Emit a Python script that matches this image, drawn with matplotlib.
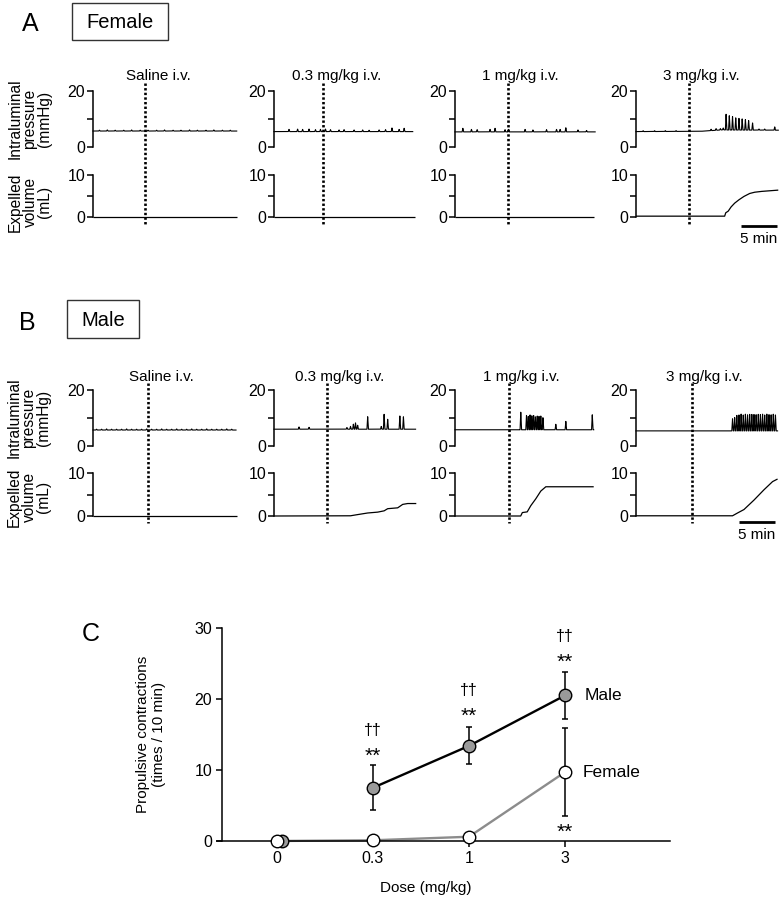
import numpy as np
import matplotlib
matplotlib.use("Agg")
import matplotlib.pyplot as plt
from matplotlib.transforms import blended_transform_factory
from matplotlib.patches import Rectangle
from matplotlib.lines import Line2D

plt.rcParams['font.family'] = ['Liberation Sans', 'DejaVu Sans']

# ---------------- data ----------------
trace_titles = ["Saline i.v.", "0.3 mg/kg i.v.", "1 mg/kg i.v.", "3 mg/kg i.v."]

# injection time (min) and recording end (min) per column
female_inject = [7.3, 6.9, 7.4, 7.4]
male_inject = [7.7, 7.4, 7.5, 7.8]
female_end = [20.1, 19.4, 19.6, 19.9]
male_end = [20.0, 19.8, 19.4, 19.8]

# baseline pressure breakpoints (min, mmHg)
female_base_t = [[0, 20.1], [0, 19.4], [0, 19.6], [0, 9.0, 12.0, 19.9]]
female_base_v = [[5.7, 5.7], [5.5, 5.5], [5.4, 5.4], [5.5, 5.6, 6.1, 6.0]]
male_base_t = [[0, 20.0], [0, 19.8], [0, 19.4], [0, 19.8]]
male_base_v = [[5.7, 5.7], [6.0, 6.0], [5.8, 5.8], [5.4, 5.4]]

# pressure spikes: time (min) and height above baseline (mmHg)
female_spk_t = [
    [0.9, 2.0, 3.1, 4.3, 5.4, 6.6, 7.7, 8.9, 10.0, 11.2, 12.3, 13.5, 14.6, 15.8, 16.9, 18.1, 19.2],
    [2.1, 3.3, 4.0, 4.9, 5.8, 6.5, 7.2, 7.9, 9.1, 9.8, 11.2, 12.4, 13.3, 14.7, 15.6, 16.5, 17.5, 18.2],
    [1.1, 2.3, 3.1, 4.9, 5.6, 7.0, 7.5, 9.8, 10.9, 12.8, 14.2, 14.7, 15.5, 17.2, 18.4],
    [1.0, 2.6, 4.1, 5.6, 10.5, 11.2, 11.8, 12.2, 12.6, 13.05, 13.5, 13.95, 14.4, 14.85, 15.3,
     15.75, 16.3, 17.2, 18.0, 19.4],
]
female_spk_h = [
    [0.3, 0.4, 0.3, 0.3, 0.4, 0.3, 0.3, 0.3, 0.4, 0.3, 0.3, 0.4, 0.3, 0.3, 0.4, 0.3, 0.3],
    [0.8, 0.9, 0.8, 0.9, 0.7, 0.8, 0.9, 0.7, 0.6, 0.7, 0.6, 0.6, 0.5, 0.6, 0.7, 1.3, 0.8, 1.2],
    [1.3, 0.9, 0.8, 0.9, 1.3, 0.8, 0.9, 0.9, 0.7, 0.8, 0.9, 0.9, 1.5, 0.7, 0.5],
    [0.3, 0.3, 0.3, 0.3, 0.5, 0.6, 0.5, 0.7, 5.6, 5.2, 4.8, 4.4, 4.2, 4.0, 3.8,
     3.4, 2.6, 0.4, 0.4, 1.2],
]
male_spk_t = [
    [0.5, 1.2, 1.9, 2.6, 3.3, 4.0, 4.7, 5.4, 6.1, 6.8, 7.5, 8.2, 8.9, 9.6, 10.3, 11.0,
     11.7, 12.4, 13.1, 13.8, 14.5, 15.2, 15.9, 16.6, 17.3, 18.0, 18.7, 19.4],
    [3.5, 4.9, 10.2, 10.7, 11.1, 11.4, 11.7, 13.1, 15.0, 15.4, 15.9, 17.6, 18.1],
    [9.2, 10.0, 10.25, 10.5, 10.75, 11.0, 11.25, 11.5, 11.75, 12.0, 12.3, 14.1, 15.5, 19.2],
    [13.5, 13.8, 14.1, 14.4, 14.7, 15.0, 15.3, 15.6, 15.9, 16.2, 16.5, 16.8, 17.1, 17.4,
     17.7, 18.0, 18.3, 18.6, 18.9, 19.2, 19.5],
]
male_spk_h = [
    [0.3, 0.3, 0.4, 0.3, 0.3, 0.3, 0.4, 0.3, 0.3, 0.3, 0.4, 0.3, 0.3, 0.4, 0.3, 0.3,
     0.4, 0.3, 0.3, 0.4, 0.3, 0.3, 0.4, 0.3, 0.3, 0.3, 0.4, 0.3],
    [0.8, 0.7, 0.6, 1.0, 1.8, 2.3, 1.4, 4.5, 1.0, 5.4, 3.6, 4.8, 4.5],
    [6.4, 5.2, 4.8, 5.4, 5.0, 5.2, 4.6, 5.0, 4.8, 5.0, 4.4, 2.0, 3.0, 5.4],
    [4.4, 4.8, 5.6, 5.8, 6.0, 5.8, 6.0, 5.8, 6.0, 5.9, 6.0, 5.8, 6.0, 5.9, 6.0, 5.8,
     6.0, 5.9, 5.8, 6.0, 5.8],
]

# expelled volume breakpoints (min, mL)
female_vol_t = [[0, 20.1], [0, 19.7], [0, 19.5],
                [0, 12.4, 12.55, 12.9, 13.3, 13.8, 14.4, 15.1, 15.9, 16.6, 17.6, 19.9]]
female_vol_v = [[0, 0], [0, 0], [0.1, 0.1],
                [0.2, 0.2, 1.0, 1.4, 2.4, 3.3, 4.1, 4.9, 5.6, 5.9, 6.1, 6.4]]
male_vol_t = [[0, 20.1],
              [0, 10.7, 11.6, 13.1, 14.5, 15.4, 15.9, 17.3, 18.0, 18.7, 19.9],
              [0, 9.19, 9.42, 10.1, 10.6, 11.3, 12.0, 12.7, 19.4],
              [0, 13.5, 14.2, 15.1, 16.5, 17.9, 19.1, 19.8]]
male_vol_v = [[0, 0],
              [0, 0.05, 0.3, 0.7, 0.9, 1.2, 1.7, 1.9, 2.7, 2.9, 2.9],
              [0, 0, 0.8, 0.96, 2.4, 4.0, 5.8, 6.8, 6.8],
              [0.05, 0.05, 0.7, 1.5, 3.7, 6.1, 8.0, 8.6]]

# panel C
dose_labels = ["0", "0.3", "1", "3"]
male_mean = [0.0, 7.5, 13.4, 20.5]
male_sem = [0.0, 3.2, 2.6, 3.3]
female_mean = [0.0, 0.1, 0.6, 9.7]
female_sem = [0.0, 0.0, 0.3, 6.2]

# ---------------- figure ----------------
W, H = 783, 899
fig = plt.figure(figsize=(W / 100, H / 100), dpi=100)


def ax_px(l, t, r, b):
    return fig.add_axes([l / W, 1 - b / H, (r - l) / W, (b - t) / H])


def fx(x):
    return x / W


def fy(y):
    return 1 - y / H


def pressure_trace(end, bt, bv, st, sh, width=0.1):
    t = np.linspace(0, end, 4000)
    y = np.interp(t, bt, bv)
    for ti, hi in zip(st, sh):
        y = y + hi * np.clip(1 - np.abs(t - ti) / width, 0, None)
    return t, y


col_left = [93, 274, 455, 636]
col_w = 143
TICK_FS = 11.5
TITLE_FS = 11
LW_SPINE = 1.1


def style_trace_ax(ax, top, ticks, labels):
    for s in ['top', 'right', 'bottom']:
        ax.spines[s].set_visible(False)
    ax.spines['left'].set_linewidth(LW_SPINE)
    ax.set_xlim(0, 20)
    ax.set_ylim(0, top)
    ax.set_xticks([])
    ax.set_yticks(ticks)
    ax.set_yticklabels(labels)
    ax.tick_params(axis='y', length=4.2, width=LW_SPINE, pad=1.5, labelsize=TICK_FS)
    ax.patch.set_alpha(0)


def draw_group(p_top, p_bot, v_top, v_bot, dot_top, dot_bot, title_y,
               inject, end, bt, bv, st, sh, vt, vv, bar_y, bar_t0, txt_y):
    for i in range(4):
        l = col_left[i]
        axp = ax_px(l, p_top, l + col_w, p_bot)
        style_trace_ax(axp, 20, [0, 10, 20], ["0", "", "20"])
        t, y = pressure_trace(end[i], bt[i], bv[i], st[i], sh[i])
        axp.plot(t, y, color='black', lw=0.8, clip_on=False)
        axv = ax_px(l, v_top, l + col_w, v_bot)
        style_trace_ax(axv, 10, [0, 5, 10], ["0", "", "10"])
        axv.plot(vt[i], vv[i], color='black', lw=0.9, clip_on=False, solid_capstyle='butt')
        tr = blended_transform_factory(axp.transData, fig.transFigure)
        fig.add_artist(Line2D([inject[i], inject[i]], [fy(dot_top), fy(dot_bot)],
                              transform=tr, color='black', lw=1.9,
                              linestyle=(0, (0.9, 0.85))))
        axp.text(inject[i] + 1.8, fy(title_y), trace_titles[i], transform=tr,
                 ha='center', va='baseline', fontsize=TITLE_FS)
        if i == 3:
            trv = blended_transform_factory(axv.transData, fig.transFigure)
            fig.add_artist(Line2D([bar_t0, bar_t0 + 5], [fy(bar_y), fy(bar_y)],
                                  transform=trv, color='black', lw=2.0,
                                  solid_capstyle='butt'))
            axv.text(bar_t0 + 2.5, fy(txt_y), "5 min", transform=trv,
                     ha='center', va='center', fontsize=TITLE_FS)


# Panel A (female)
draw_group(91, 147, 175, 217, 83, 225, 80, female_inject, female_end,
           female_base_t, female_base_v, female_spk_t, female_spk_h,
           female_vol_t, female_vol_v, 226, 14.7, 239)
# Panel B (male)
draw_group(390, 446, 473, 516, 383, 523, 381, male_inject, male_end,
           male_base_t, male_base_v, male_spk_t, male_spk_h,
           male_vol_t, male_vol_v, 522, 14.4, 535)

# side labels
for (x, y, s) in [(30, 119, "Intraluminal\npressure\n(mmHg)"),
                  (30, 202, "Expelled\nvolume\n(mL)"),
                  (29, 418, "Intraluminal\npressure\n(mmHg)"),
                  (29, 497, "Expelled\nvolume\n(mL)")]:
    fig.text(fx(x), fy(y), s, rotation=90, ha='center', va='center',
             multialignment='center', fontsize=11.2, linespacing=1.0)

# panel letters and boxes
fig.text(fx(30), fy(24), "A", ha='center', va='center', fontsize=18)
fig.text(fx(27), fy(323), "B", ha='center', va='center', fontsize=18)
fig.text(fx(91), fy(634), "C", ha='center', va='center', fontsize=18)
for (l, t, r, b, s) in [(72, 3, 168, 40, "Female"), (67, 300, 139, 338, "Male")]:
    fig.add_artist(Rectangle((fx(l), fy(b)), fx(r - l), (b - t) / H,
                             transform=fig.transFigure, fill=False,
                             edgecolor='#333333', lw=1.0))
    fig.text(fx((l + r) / 2), fy((t + b) / 2 + 1), s, ha='center', va='center',
             fontsize=14.5)

# ---------------- Panel C ----------------
axc = ax_px(222, 628, 670, 841)
x_idx = np.arange(len(dose_labels))
axc.set_xlim(-0.573, 4.094)
axc.set_ylim(0, 30)
for s in ['top', 'right']:
    axc.spines[s].set_visible(False)
axc.spines['left'].set_linewidth(LW_SPINE)
axc.spines['bottom'].set_linewidth(LW_SPINE)
axc.spines['bottom'].set_bounds(-0.62, 4.094)
axc.set_xticks(x_idx)
axc.set_xticklabels(dose_labels)
axc.set_yticks([0, 10, 20, 30])
axc.tick_params(axis='both', length=4.2, width=LW_SPINE, labelsize=11.5, pad=3.0)
axc.patch.set_alpha(0)

male_x = x_idx + np.array([0.05, 0, 0, 0])
axc.plot(x_idx, female_mean, color='#8c8c8c', lw=1.7, zorder=2, clip_on=False)
axc.plot(male_x[1:], male_mean[1:], color='black', lw=1.7, zorder=3)
axc.errorbar(male_x[1:], male_mean[1:], yerr=male_sem[1:], fmt='none',
             ecolor='black', elinewidth=1.1, capsize=2.2, capthick=1.1, zorder=3)
axc.errorbar(x_idx[2:], female_mean[2:], yerr=female_sem[2:], fmt='none',
             ecolor='black', elinewidth=1.1, capsize=2.2, capthick=1.1, zorder=3)
axc.plot(male_x, male_mean, 'o', ms=9, mfc='#9a9a9a', mec='black', mew=1.0,
         zorder=4, clip_on=False)
axc.plot(x_idx, female_mean, 'o', ms=9, mfc='white', mec='black', mew=1.0,
         zorder=5, clip_on=False)


def ypx(y):
    return (841 - y) / 7.1


for (xi, yd, yc) in [(1, 730, 756), (2, 690, 716), (3, 637, 662)]:
    axc.text(xi, ypx(yd), "††", ha='center', va='center', fontsize=11.5)
    axc.text(xi, ypx(yc), "**", ha='center', va='center', fontsize=15)
axc.text(3, ypx(832), "**", ha='center', va='center', fontsize=15)

axc.text(3.2, male_mean[3], "Male", ha='left', va='center', fontsize=12.5)
axc.text(3.18, female_mean[3], "Female", ha='left', va='center', fontsize=12.5)

fig.text(fx(151), fy(734), "Propulsive contractions\n(times / 10 min)", rotation=90,
         ha='center', va='center', multialignment='center', fontsize=11,
         linespacing=1.1)
fig.text(fx(426), fy(888), "Dose (mg/kg)", ha='center', va='center', fontsize=11)

fig.savefig("out.png", dpi=100)
